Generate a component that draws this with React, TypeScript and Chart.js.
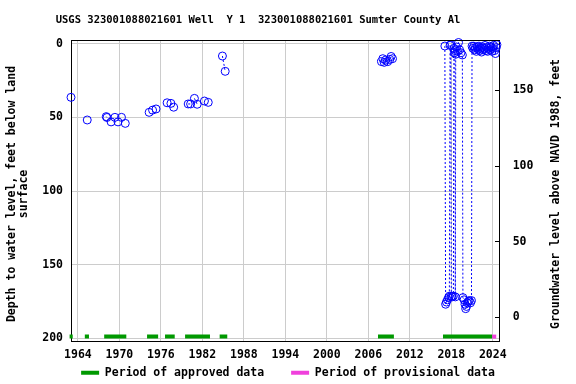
import { useEffect, useRef } from 'react';
import { Chart, registerables } from 'chart.js';

Chart.register(...registerables);

const FONT_FAMILY = '"DejaVu Sans Mono", monospace';
const BLUE = '#0000ff';
const GREEN = '#009900';
const PINK = '#f040dc';

const titleText = 'USGS 323001088021601 Well  Y 1  323001088021601 Sumter County Al';
const leftTitleLines = ['Depth to water level, feet below land', 'surface'];
const rightTitleText = 'Groundwater level above NAVD 1988, feet';
const legendLabels = ['Period of approved data', 'Period of provisional data'];

const yearTicks = [1964, 1970, 1976, 1982, 1988, 1994, 2000, 2006, 2012, 2018, 2024];
const depthTicks = [0, 50, 100, 150, 200];
const elevationTicks = [0, 50, 100, 150];

const histYears = [1963.0, 1965.35, 1968.1, 1968.2, 1968.8, 1969.35, 1969.8, 1970.3, 1970.85, 1974.3, 1974.8, 1975.3, 1976.9, 1977.45, 1977.85, 1979.95, 1980.3, 1980.85, 1981.25, 1982.3, 1982.85, 1984.9, 1985.3];
const histDepths = [36.3, 51.7, 49.4, 50, 53, 49.9, 53, 49.9, 54, 46.5, 45, 44.2, 40, 40.4, 43, 40.8, 40.8, 37, 41, 38.8, 39.7, 8.2, 18.6];

const midYears = [2007.9, 2008.1, 2008.3, 2008.5, 2008.8, 2009.1, 2009.3, 2009.5];
const midDepths = [12, 10, 12.5, 11, 12, 10.5, 8.5, 10];

const recentYears = [2017.07, 2017.18, 2017.3, 2017.45, 2017.6, 2017.72, 2017.82, 2017.92, 2018.0, 2018.12, 2018.3, 2018.38, 2018.45, 2018.52, 2018.58, 2018.64, 2018.75, 2018.9, 2019.05, 2019.2, 2019.4, 2019.6, 2019.68, 2019.85, 2019.98, 2020.08, 2020.2, 2020.32, 2020.45, 2020.6, 2020.78, 2020.92, 2021.0, 2021.12, 2021.25, 2021.38, 2021.5, 2021.62, 2021.75, 2021.88, 2022.0, 2022.12, 2022.25, 2022.38, 2022.5, 2022.62, 2022.75, 2022.88, 2023.0, 2023.12, 2023.25, 2023.38, 2023.5, 2023.62, 2023.75, 2023.88, 2024.0, 2024.12, 2024.25, 2024.38, 2024.5, 2024.6];
const recentDepths = [1.4, 177, 175.5, 174, 172.5, 171.5, 1.0, 0.5, 171.5, 172, 171.5, 3, 6, 4.5, 172, 7, 2, 5, -1, 4, 6, 7.5, 172.5, 174, 177, 180, 178.5, 176, 175, 174.5, 176, 174.5, 1.5, 3, 1.5, 4, 2.5, 5, 2, 3.5, 1.5, 4.5, 3, 5.5, 2, 4, 3, 1, 4.5, 2.5, 5, 3, 1.5, 4, 2, 5, 3, 1, 4.5, 6.5, 2.5, 0.5];

const approvedStart = [1962.8, 1965.0, 1967.8, 1974.0, 1976.6, 1979.5, 1984.5, 2007.4, 2016.8];
const approvedEnd = [1963.25, 1965.6, 1971.0, 1975.6, 1978.0, 1983.1, 1985.6, 2009.7, 2023.9];
const provisionalStart = [2023.9];
const provisionalEnd = [2024.5];
const PERIOD_DEPTH = 199;
const GAP_YEARS = 0.45;

function buildLevels() {
  const years = [...histYears, ...midYears, ...recentYears];
  const depths = [...histDepths, ...midDepths, ...recentDepths];
  const out: { x: number; y: number | null }[] = [];
  for (let i = 0; i < years.length; i++) {
    if (i > 0 && years[i] - years[i - 1] > GAP_YEARS) {
      out.push({ x: (years[i] + years[i - 1]) / 2, y: null });
    }
    out.push({ x: years[i], y: depths[i] });
  }
  return out;
}

function buildPeriods(starts: number[], ends: number[]) {
  const out: { x: number; y: number | null }[] = [];
  for (let i = 0; i < starts.length; i++) {
    if (i > 0) out.push({ x: (ends[i - 1] + starts[i]) / 2, y: null });
    out.push({ x: starts[i], y: PERIOD_DEPTH });
    out.push({ x: ends[i], y: PERIOD_DEPTH });
  }
  return out;
}

const X_AXIS_HEIGHT = 22;
const LEGEND_PADDING = 27;
const LEGEND_FONT = 11.5;
const LEGEND_CENTER_Y = 372.7;

const decorPlugin = {
  id: 'usgsDecor',
  afterLayout(chart: any) {
    const lg = chart.legend;
    if (lg) {
      const h = lg.height;
      lg.top = LEGEND_CENTER_Y - LEGEND_PADDING - LEGEND_FONT / 2;
      lg.bottom = lg.top + h;
    }
  },
  afterDraw(chart: any) {
    const ctx = chart.ctx;
    const ca = chart.chartArea;
    ctx.save();
    ctx.strokeStyle = '#000';
    ctx.lineWidth = 1;
    ctx.beginPath();
    ctx.moveTo(ca.left, Math.round(ca.top) + 0.5);
    ctx.lineTo(ca.right, Math.round(ca.top) + 0.5);
    ctx.stroke();
    ctx.fillStyle = '#000';
    ctx.textAlign = 'center';
    ctx.textBaseline = 'middle';
    ctx.font = `bold 10.5px ${FONT_FAMILY}`;
    ctx.fillText(titleText, 258, 20);
    ctx.font = `bold 11.5px ${FONT_FAMILY}`;
    const cy = 194;
    ctx.save();
    ctx.translate(12, cy);
    ctx.rotate(-Math.PI / 2);
    ctx.fillText(leftTitleLines[0], 0, 0);
    ctx.restore();
    ctx.save();
    ctx.translate(24.5, cy);
    ctx.rotate(-Math.PI / 2);
    ctx.fillText(leftTitleLines[1], 0, 0);
    ctx.restore();
    ctx.save();
    ctx.translate(556, cy);
    ctx.rotate(-Math.PI / 2);
    ctx.fillText(rightTitleText, 0, 0);
    ctx.restore();
    ctx.restore();
  },
};

export default function App() {
  const canvasRef = useRef<HTMLCanvasElement | null>(null);

  useEffect(() => {
    if (!canvasRef.current) return;
    const tickFont = { family: FONT_FAMILY, size: 11.5, weight: 'bold' as const };
    const legendHeight = LEGEND_FONT + LEGEND_PADDING + 10;
    const bottomPad = 43 - legendHeight - X_AXIS_HEIGHT;
    const chart = new Chart(canvasRef.current, {
      type: 'line',
      data: {
        datasets: [
          {
            label: 'Water level',
            data: buildLevels(),
            borderColor: BLUE,
            borderWidth: 1,
            borderDash: [2, 2],
            backgroundColor: 'rgba(0,0,0,0)',
            pointRadius: 4,
            pointBorderWidth: 1,
            pointBorderColor: BLUE,
            pointBackgroundColor: 'rgba(0,0,0,0)',
            spanGaps: false,
            clip: false as any,
            yAxisID: 'y',
          },
          {
            label: legendLabels[0],
            data: buildPeriods(approvedStart, approvedEnd),
            borderColor: GREEN,
            backgroundColor: GREEN,
            borderWidth: 4,
            borderCapStyle: 'butt',
            pointRadius: 0,
            spanGaps: false,
            clip: false as any,
            yAxisID: 'y',
          },
          {
            label: legendLabels[1],
            data: buildPeriods(provisionalStart, provisionalEnd),
            borderColor: PINK,
            backgroundColor: PINK,
            borderWidth: 4,
            borderCapStyle: 'butt',
            pointRadius: 0,
            spanGaps: false,
            clip: false as any,
            yAxisID: 'y',
          },
        ],
      },
      options: {
        animation: false,
        responsive: false,
        maintainAspectRatio: false,
        layout: { padding: { top: 40, left: 0, right: 0, bottom: bottomPad } },
        plugins: {
          title: { display: false },
          tooltip: { enabled: false },
          legend: {
            display: true,
            position: 'bottom',
            labels: {
              font: { family: FONT_FAMILY, size: LEGEND_FONT, weight: 'bold' },
              color: '#000',
              boxWidth: 18,
              boxHeight: 4,
              padding: LEGEND_PADDING,
              generateLabels: () => [
                { text: legendLabels[0], fillStyle: GREEN, strokeStyle: GREEN, lineWidth: 0, hidden: false, datasetIndex: 1, fontColor: '#000' },
                { text: legendLabels[1], fillStyle: PINK, strokeStyle: PINK, lineWidth: 0, hidden: false, datasetIndex: 2, fontColor: '#000' },
              ],
            },
          },
        },
        scales: {
          x: {
            type: 'linear',
            position: 'bottom',
            min: 1963,
            max: 2024.9,
            afterBuildTicks: (s: any) => {
              s.ticks = yearTicks.map((v) => ({ value: v }));
            },
            afterFit: (s: any) => {
              s.height = X_AXIS_HEIGHT;
            },
            ticks: {
              font: tickFont,
              color: '#000',
              padding: 7,
              autoSkip: false,
              maxRotation: 0,
              callback: (v: any) => String(v),
            },
            grid: { color: '#cccccc', drawTicks: false },
            border: { color: '#000', width: 1 },
          },
          y: {
            type: 'linear',
            position: 'left',
            reverse: true,
            min: -2.7,
            max: 202,
            afterBuildTicks: (s: any) => {
              s.ticks = depthTicks.map((v) => ({ value: v }));
            },
            afterFit: (s: any) => {
              s.width = 71;
            },
            ticks: { font: tickFont, color: '#000', padding: 8 },
            grid: { color: '#cccccc', drawTicks: false },
            border: { color: '#000', width: 1 },
          },
          y2: {
            type: 'linear',
            position: 'right',
            min: -15.7,
            max: 183.4,
            afterBuildTicks: (s: any) => {
              s.ticks = elevationTicks.map((v) => ({ value: v }));
            },
            afterFit: (s: any) => {
              s.width = 77;
            },
            ticks: { font: tickFont, color: '#000', padding: 17.7 },
            grid: { drawOnChartArea: false, drawTicks: true, tickLength: -4, color: '#000' },
            border: { color: '#000', width: 1 },
          },
        },
      } as any,
      plugins: [decorPlugin],
    });
    return () => chart.destroy();
  }, []);

  return (
    <div style={{ position: 'absolute', left: 0, top: 0, width: 576, height: 384 }}>
      <canvas ref={canvasRef} width={576} height={384} style={{ width: 576, height: 384, display: 'block' }} />
    </div>
  );
}
